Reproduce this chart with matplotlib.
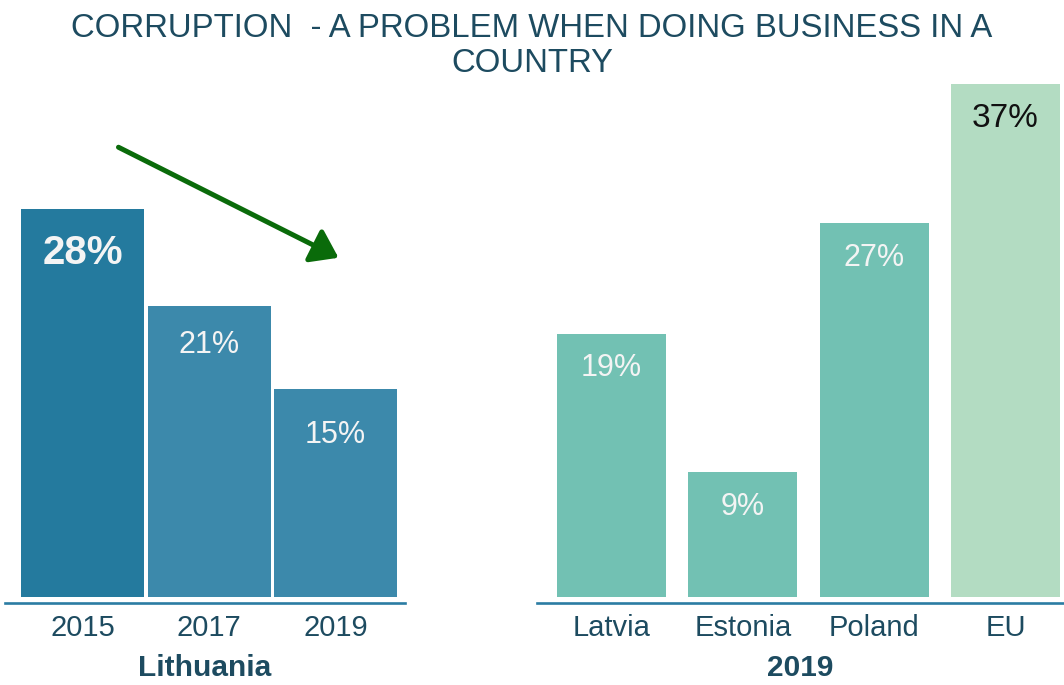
import matplotlib
matplotlib.use("Agg")
import matplotlib.pyplot as plt
from matplotlib import font_manager

names = {f.name for f in font_manager.fontManager.ttflist}
narrow = "Liberation Sans Narrow" if "Liberation Sans Narrow" in names else "Liberation Sans"
plt.rcParams['font.family'] = ['Liberation Sans', 'DejaVu Sans']

# Data
lt_years = ["2015", "2017", "2019"]
lt_values = [28, 21, 15]
cmp_countries = ["Latvia", "Estonia", "Poland", "EU"]
cmp_values = [19, 9, 27, 37]

title = "CORRUPTION  - A PROBLEM WHEN DOING BUSINESS IN A\nCOUNTRY"

W, H = 1064, 685
fig = plt.figure(figsize=(W / 100, H / 100), dpi=100)

px_per_unit = 13.86
base_px = 597
axis_px = 603
top_px = 70
ylo = -(axis_px - base_px) / px_per_unit
yhi = (base_px - top_px) / px_per_unit
ax_bottom = (H - axis_px) / H
ax_height = (axis_px - top_px) / H

dark = "#1d4b60"
spine_col = "#2b7ca3"

def style(ax, labels, group):
    ax.set_ylim(ylo, yhi)
    for s in ["top", "right", "left"]:
        ax.spines[s].set_visible(False)
    ax.spines["bottom"].set_color(spine_col)
    ax.spines["bottom"].set_linewidth(1.9)
    ax.set_yticks([])
    ax.set_xticks(range(len(labels)))
    ax.set_xticklabels(labels, fontsize=21, color=dark)
    ax.tick_params(axis="x", length=0, pad=8)
    ax.set_xlabel(group, fontsize=21.5, fontweight="bold", color=dark, labelpad=8.5)

# Left panel: Lithuania
ax1 = fig.add_axes([5 / W, ax_bottom, 400 / W, ax_height])
lt_colors = ["#247a9e", "#3c89ab", "#3c89ab"]
ax1.bar(range(len(lt_values)), lt_values, width=0.972, color=lt_colors)
ax1.set_xlim(-0.613, 2.549)
style(ax1, lt_years, "Lithuania")
for i, v in enumerate(lt_values):
    if i == 0:
        ax1.annotate(f"{v}%", (i, v), xytext=(0, -32), textcoords="offset points",
                     ha="center", va="center", fontsize=29, fontweight="bold", color="#f4f4f4")
    else:
        ax1.annotate(f"{v}%", (i, v), xytext=(0, -28 if i == 1 else -33), textcoords="offset points",
                     ha="center", va="center", fontsize=22, color="#f4f4f4")

# Right panel: 2019 comparison
ax2 = fig.add_axes([537 / W, ax_bottom, 527 / W, ax_height])
cmp_colors = ["#72c1b3", "#72c1b3", "#72c1b3", "#b3dcc2"]
ax2.bar(range(len(cmp_values)), cmp_values, width=0.83, color=cmp_colors)
ax2.set_xlim(-0.567, 3.446)
style(ax2, cmp_countries, "2019")
for i, v in enumerate(cmp_values):
    is_eu = cmp_countries[i] == "EU"
    col = "#111111" if is_eu else "#f4f4f4"
    ax2.annotate(f"{v}%", (i, v), xytext=(0, -25), textcoords="offset points",
                 ha="center", va="center", fontsize=24 if is_eu else 22, color=col)

# Trend arrow
fig.add_artist(matplotlib.patches.FancyArrowPatch(
    (116, H - 146), (341, H - 259), transform=None,
    arrowstyle="-|>,head_length=10,head_width=7", mutation_scale=1.6,
    color="#0a6b0a", linewidth=3.6))

# Title
fig.text(0.5, 1 - 46 / H, title, ha="center", va="center", fontsize=23.7,
         color=dark, family=[narrow, "Liberation Sans"], linespacing=1.14)

fig.savefig("out.png", dpi=100)
